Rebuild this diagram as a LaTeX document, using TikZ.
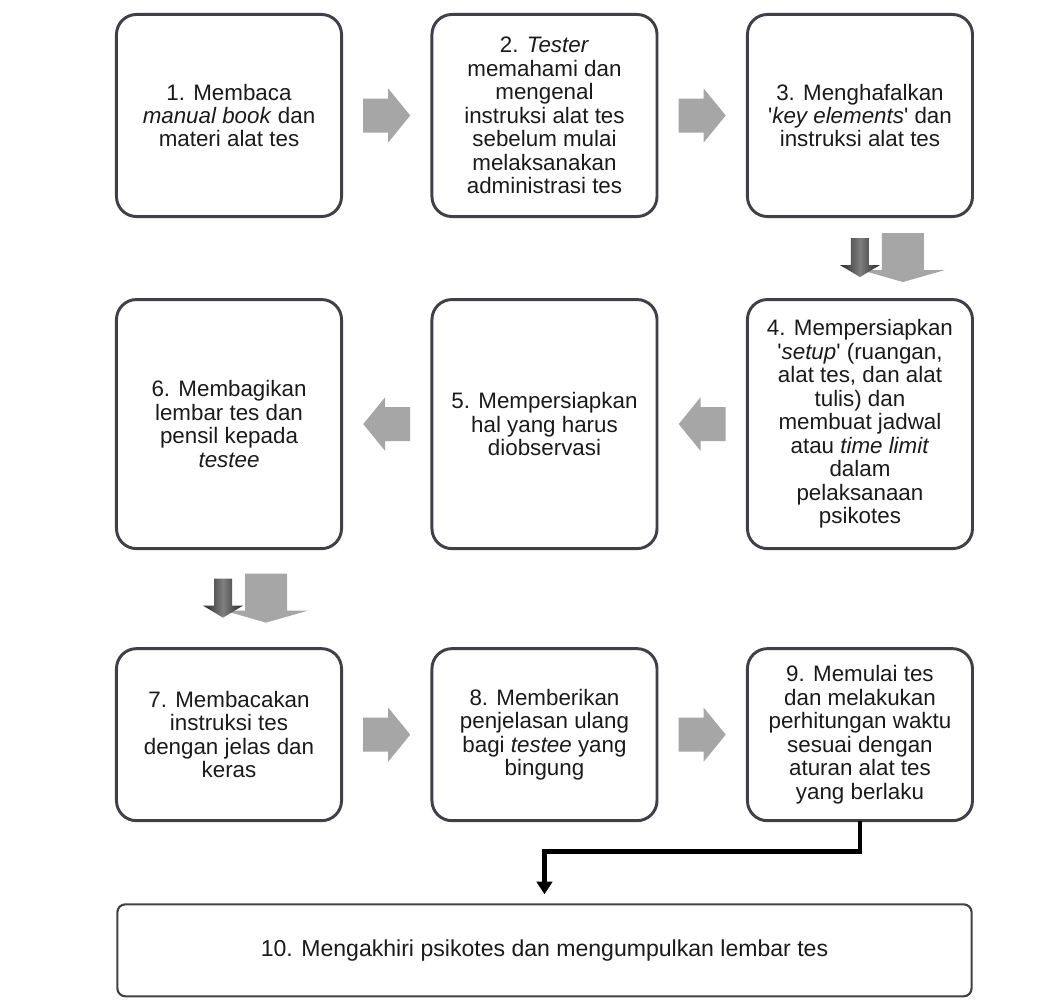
\documentclass[tikz,border=0pt]{standalone}
\usepackage{fontspec}
\setmainfont{Liberation Sans}
\usetikzlibrary{positioning,calc,arrows.meta}

\definecolor{boxline}{RGB}{64,64,72}
\definecolor{arrowgray}{RGB}{166,166,166}
\definecolor{textdark}{RGB}{26,26,26}

\tikzset{
  block arrow/.pic={
    \fill[arrowgray] (-23.5,-17) -- (1.5,-17) -- (1.5,-27) -- (23.5,0)
      -- (1.5,27) -- (1.5,17) -- (-23.5,17) -- cycle;
  },
  drop arrow/.pic={
    \fill[arrowgray] (22,-25) -- (64,-25) -- (64,12) -- (85,12) -- (43,24)
      -- (1,12) -- (22,12) -- cycle;
    \shade[left color=black!85,right color=black!85,middle color=black!50]
      (-9,-20) -- (9,-20) -- (9,7) -- (20,7) -- (0,19) -- (-20,7) -- (-9,7) -- cycle;
  }
}

\begin{document}
\begin{tikzpicture}[x=0.025cm,y=-0.025cm,node distance=2.26cm,
  main node/.style={draw=boxline,line width=2.1pt,rounded corners=0.5cm,
    align=center,minimum width=5.625cm,inner sep=0pt,outer sep=0pt,text=textdark,
    font=\fontsize{15.9}{16.7}\selectfont},
  end node/.style={main node,line width=1.5pt,rounded corners=0.2cm,
    minimum width=21.35cm,minimum height=2.3cm,font=\fontsize{16.4}{17}\selectfont}]

  \useasboundingbox (0,0) rectangle (1061,1000);

  % first row
  \node[main node,minimum height=5.05cm] (1) at (229,115.5)
    {1. Membaca\\\textit{manual book} dan\\materi alat tes};
  \node[main node,minimum height=5.05cm] (2) [right=of 1]
    {2. \textit{Tester}\\memahami dan\\mengenal\\instruksi alat tes\\sebelum mulai\\melaksanakan\\administrasi tes};
  \node[main node,minimum height=5.05cm] (3) [right=of 2]
    {3. Menghafalkan\\\textquotesingle\textit{key elements}\textquotesingle\ dan\\instruksi alat tes};

  % second row
  \node[main node,minimum height=6.225cm] (4) [below=2.075cm of 3]
    {4. Mempersiapkan\\\textquotesingle\textit{setup}\textquotesingle\ (ruangan,\\alat tes, dan alat\\tulis) dan\\membuat jadwal\\atau \textit{time limit}\\dalam\\pelaksanaan\\psikotes};
  \node[main node,minimum height=6.225cm] (5) [left=of 4]
    {5. Mempersiapkan\\hal yang harus\\diobservasi};
  \node[main node,minimum height=6.225cm] (6) [left=of 5]
    {6. Membagikan\\lembar tes dan\\pensil kepada\\\textit{testee}};

  % third row
  \node[main node,minimum height=4.3cm] (7) [below=2.5cm of 6]
    {7. Membacakan\\instruksi tes\\dengan jelas dan\\keras};
  \node[main node,minimum height=4.3cm] (8) [right=of 7]
    {8. Memberikan\\penjelasan ulang\\bagi \textit{testee} yang\\bingung};
  \node[main node,minimum height=4.3cm] (9) [right=of 8]
    {9. Memulai tes\\dan melakukan\\perhitungan waktu\\sesuai dengan\\aturan alat tes\\yang berlaku};

  \node[end node] (10) [below=2.09cm of 8]
    {10. Mengakhiri psikotes dan mengumpulkan lembar tes};

  % arrows between the steps
  \pic at ($(1.east)!0.5!(2.west)$) {block arrow};
  \pic at ($(2.east)!0.5!(3.west)$) {block arrow};
  \pic at ($(3.south)!0.5!(4.north)$) {drop arrow};
  \pic[rotate=180] at ($(4.west)!0.5!(5.east)$) {block arrow};
  \pic[rotate=180] at ($(5.west)!0.5!(6.east)$) {block arrow};
  \pic at ($(6.south)!0.5!(7.north)+(-6,0)$) {drop arrow};
  \pic at ($(7.east)!0.5!(8.west)$) {block arrow};
  \pic at ($(8.east)!0.5!(9.west)$) {block arrow};

  \draw[line width=3.2pt,-{Triangle[width=11pt,length=9pt]},shorten >=0.25cm]
    (9.south) -- ++(0,31) -| (10.north);
\end{tikzpicture}
\end{document}
